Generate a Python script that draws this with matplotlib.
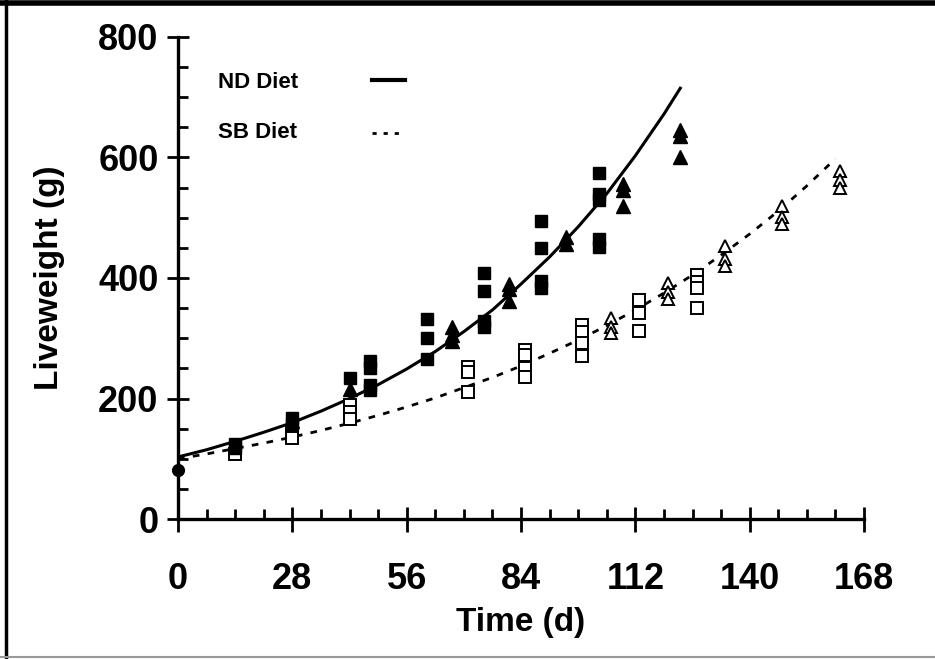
import matplotlib
matplotlib.use("Agg")
import matplotlib.pyplot as plt
from matplotlib.lines import Line2D
from matplotlib.ticker import MultipleLocator

plt.rcParams.update({
    "font.family": ["Liberation Sans Narrow", "Liberation Sans", "DejaVu Sans"],
    "font.weight": "bold",
})

# fitted growth curves
nd_fit_days = [0, 7, 14, 21, 28, 35, 42, 49, 56, 63, 70, 77, 84, 91, 98, 105, 112, 119, 123]
nd_fit_vals = [103, 115, 129, 144, 160, 179, 200, 223, 249, 278, 311, 347, 390, 435, 485, 540, 603, 672, 715]
sb_fit_days = [0, 7, 14, 21, 28, 35, 42, 49, 56, 63, 70, 77, 84, 91, 98, 105, 112, 119, 126, 133, 140, 147, 154, 161]
sb_fit_vals = [100, 108, 117, 126, 136, 147, 159, 172, 186, 201, 218, 235, 254, 275, 297, 321, 347, 375, 405, 438, 473, 511, 553, 598]

# ND diet, filled squares
nd_sq_days = [14, 14, 28, 28, 42, 47, 47, 47, 47, 61, 61, 61, 75, 75, 75, 75,
              89, 89, 89, 89, 103, 103, 103, 103, 103]
nd_sq_vals = [125, 118, 168, 158, 234, 262, 250, 222, 214, 332, 300, 266, 408, 378, 328, 318,
              495, 450, 395, 383, 574, 540, 530, 465, 452]
# ND diet, filled triangles
nd_tri_days = [28, 42, 67, 67, 67, 81, 81, 81, 95, 95, 109, 109, 109, 123, 123, 123]
nd_tri_vals = [162, 216, 318, 305, 295, 390, 382, 362, 468, 456, 556, 546, 520, 645, 635, 600]
# start weight
start_days = [0]
start_vals = [82]

# SB diet, open squares
sb_sq_days = [14, 28, 28, 42, 42, 42, 71, 71, 71, 85, 85, 85, 85, 99, 99, 99, 99,
              113, 113, 113, 127, 127, 127, 127]
sb_sq_vals = [108, 145, 135, 190, 178, 166, 252, 244, 210, 280, 272, 250, 235, 322, 310, 292, 271,
              363, 342, 312, 405, 394, 383, 350]
# SB diet, open triangles
sb_tri_days = [106, 106, 106, 120, 120, 120, 134, 134, 134, 148, 148, 148, 162, 162, 162]
sb_tri_vals = [333, 318, 308, 392, 377, 365, 453, 432, 420, 520, 502, 490, 578, 562, 550]

fig = plt.figure(figsize=(9.35, 6.59), dpi=100)
ax = fig.add_axes([0.1904, 0.2124, 0.7337, 0.7315])

dotted = (0, (2.4, 3.0))
ax.plot(nd_fit_days, nd_fit_vals, color="black", lw=2.2, zorder=2)
ax.plot(sb_fit_days, sb_fit_vals, color="black", lw=2.0, linestyle=dotted, zorder=2)

ax.plot(sb_sq_days, sb_sq_vals, "s", ms=8, mfc="white", mec="black", mew=1.4, zorder=3, clip_on=False)
ax.plot(sb_tri_days, sb_tri_vals, "^", ms=9, mfc="white", mec="black", mew=1.4, zorder=3, clip_on=False)
ax.plot(nd_sq_days, nd_sq_vals, "s", ms=9.2, color="black", zorder=4, clip_on=False)
ax.plot(nd_tri_days, nd_tri_vals, "^", ms=9.5, color="black", zorder=4, clip_on=False)
ax.plot(start_days, start_vals, "o", ms=8.5, color="black", zorder=4, clip_on=False)

ax.set_xlim(0, 168)
ax.set_ylim(0, 800)
ax.xaxis.set_major_locator(MultipleLocator(28))
ax.xaxis.set_minor_locator(MultipleLocator(7))
ax.yaxis.set_major_locator(MultipleLocator(200))
ax.yaxis.set_minor_locator(MultipleLocator(50))

for side in ["top", "right"]:
    ax.spines[side].set_visible(False)
for side in ["left", "bottom"]:
    ax.spines[side].set_linewidth(2.4)

ax.tick_params(axis="x", which="major", direction="inout", length=18, width=2, pad=22, labelsize=26)
ax.tick_params(axis="y", which="major", direction="inout", length=16, width=2, pad=6, labelsize=26)
ax.tick_params(which="minor", direction="in", length=7, width=2)

ax.set_xlabel("Time (d)", fontsize=24, fontweight="bold", labelpad=7)
ax.set_ylabel("Liveweight (g)", fontsize=24, fontweight="bold")
ax.yaxis.set_label_coords(-0.165, 0.5)

# legend drawn by hand
ax.text(0.058, 0.905, "ND Diet", transform=ax.transAxes, fontsize=16, fontweight="bold", va="center")
ax.text(0.058, 0.801, "SB Diet", transform=ax.transAxes, fontsize=16, fontweight="bold", va="center")
ax.add_line(Line2D([0.283, 0.331], [0.911, 0.911], transform=ax.transAxes, color="black", lw=3))
ax.add_line(Line2D([0.283, 0.326], [0.801, 0.801], transform=ax.transAxes, color="black", lw=2,
                   linestyle=(0, (1.5, 2.5))))

# picture frame
fig.add_artist(Line2D([0.006, 0.006], [0.0, 1.0], transform=fig.transFigure, color="black", lw=2.5))
fig.add_artist(Line2D([0.0, 1.0], [0.995, 0.995], transform=fig.transFigure, color="black", lw=4))
fig.add_artist(Line2D([0.0, 1.0], [0.003, 0.003], transform=fig.transFigure, color="#999999", lw=1.5))

fig.savefig("out.png", dpi=100)
